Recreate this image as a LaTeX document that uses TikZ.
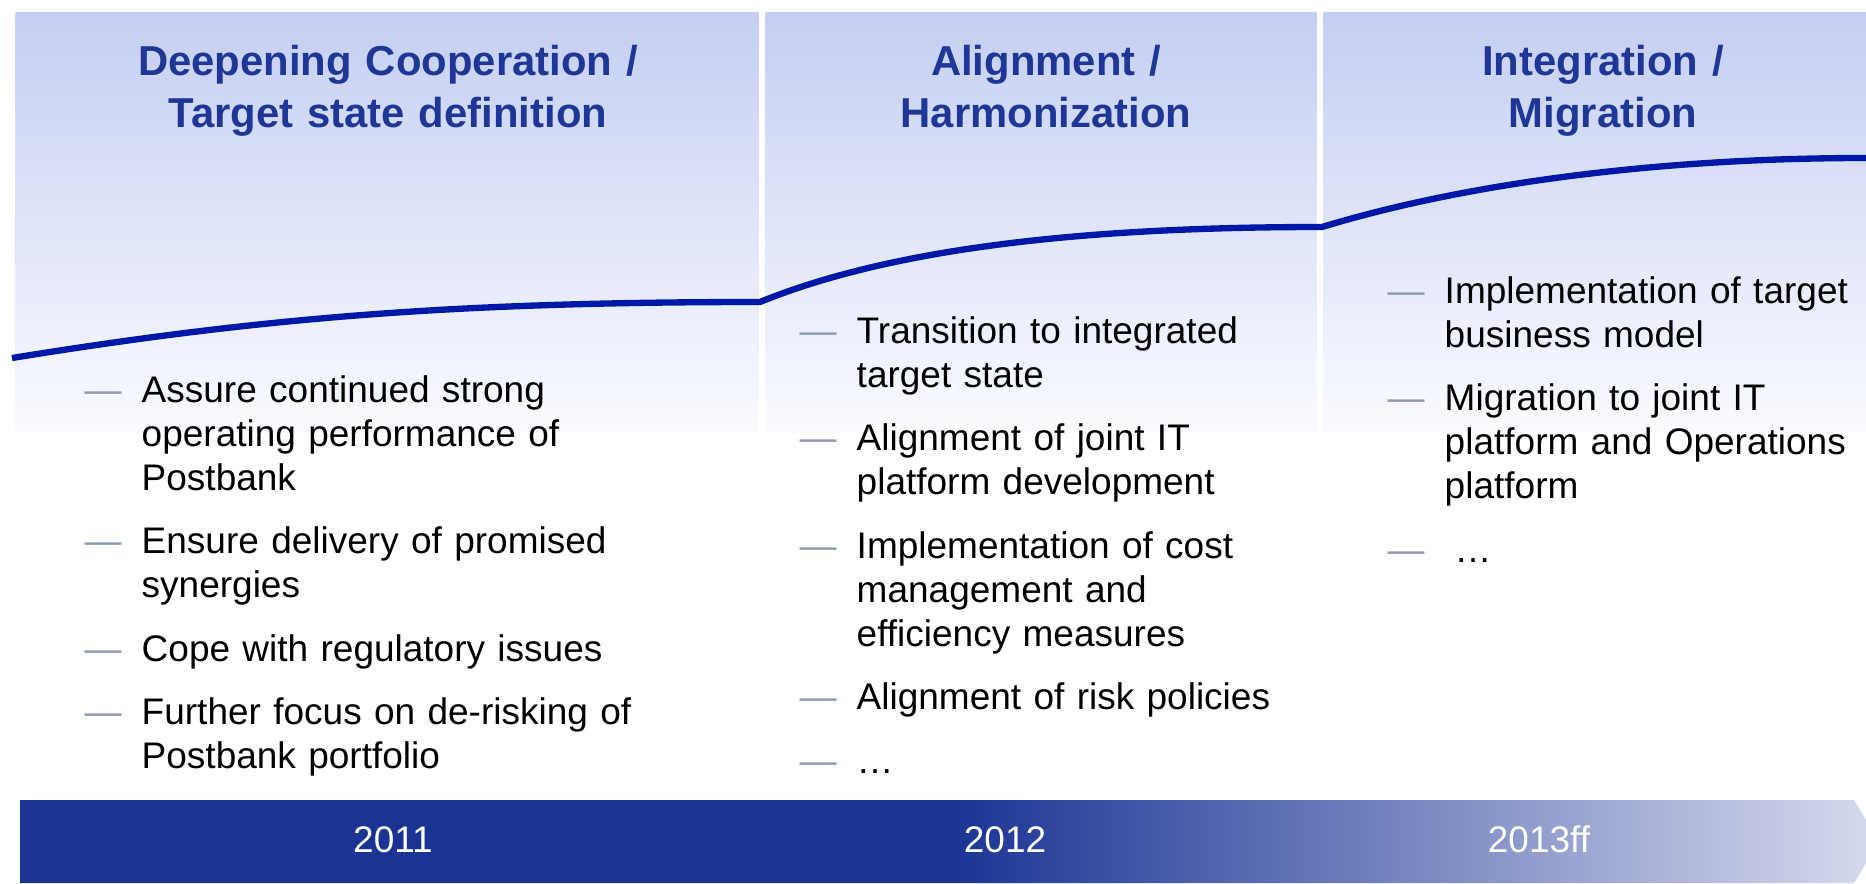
\documentclass[tikz,border=0pt]{standalone}
\usepackage{fontspec}
\setmainfont{Liberation Sans}
\usepackage{xcolor}
\usetikzlibrary{positioning}

\definecolor{headblue}{RGB}{30,55,150}
\definecolor{curveblue}{RGB}{0,24,168}
\definecolor{dashgrey}{RGB}{138,155,178}
\definecolor{paneltop}{RGB}{197,206,242}
\definecolor{panelbot}{RGB}{250,251,255}
\definecolor{bardark}{RGB}{26,52,148}
\definecolor{barlight}{RGB}{216,219,238}

\pgfdeclarehorizontalshading{barshade}{100bp}{color(0bp)=(bardark); color(50bp)=(bardark);
  color(75bp)=(barlight); color(100bp)=(barlight)}

\newcommand{\bdash}{\llap{\textcolor{dashgrey}{—}\hspace{0.2cm}}}

\begin{document}
\begin{tikzpicture}[
  panel/.style={rectangle, inner sep=0pt, anchor=north west, minimum height=4.2cm,
                top color=paneltop, bottom color=panelbot},
  phase/.style={anchor=north, inner sep=0pt, text width=6.5cm, align=center,
                font=\fontsize{11.9pt}{14.79pt}\selectfont\bfseries, text=headblue,
                execute at begin node=\strut},
  bullet/.style={anchor=north west, inner sep=0pt, text width=6cm, align=left,
                 font=\fontsize{10.53pt}{12.52pt}\selectfont,
                 execute at begin node=\strut\bdash, execute at end node=\strut},
  year/.style={anchor=base, inner sep=0pt, text=white,
               font=\fontsize{10.53pt}{12.52pt}\selectfont},
  growth/.style={draw=curveblue, line width=1.8pt, line join=round},
]
  \useasboundingbox (0,0) rectangle (18.66,8.83);

  % ===== Phase panels =====
  \node[panel, minimum width=7.43cm] (p1) at (0.15,8.71) {};
  \node[panel, minimum width=5.51cm] (p2) at (7.65,8.71) {};
  \node[panel, minimum width=5.60cm] (p3) at (13.23,8.71) {};

  \node[phase] (h1) at (3.88,8.444) {Deepening Cooperation /\\ Target state definition};
  \node[phase] (h2) at (10.46,8.444) {Alignment /\\ Harmonization};
  \node[phase] (h3) at (16.03,8.444) {Integration /\\ Migration};

  % ===== Growth curve =====
  \coordinate (g0) at (0.12,5.25);
  \coordinate (g1) at (7.60,5.81);
  \coordinate (g2) at (13.22,6.56);
  \coordinate (g3) at (18.66,7.25);
  \draw[growth] (g0) .. controls (2.60,5.65) and (4.50,5.81) .. (g1)
        .. controls (9.00,6.38) and (11.00,6.56) .. (g2)
        .. controls (14.60,6.98) and (16.50,7.25) .. (g3) -- ++(0.2,0);

  % ===== Bullets 2011 =====
  \node[bullet] (a1) at (1.41,5.12) {Assure continued strong\\ operating performance of\\ Postbank};
  \node[bullet, below=0.18cm of a1.south west, anchor=north west] (a2)
       {Ensure delivery of promised\\ synergies};
  \node[bullet, below=0.18cm of a2.south west, anchor=north west] (a3)
       {Cope with regulatory issues};
  \node[bullet, below=0.18cm of a3.south west, anchor=north west] (a4)
       {Further focus on de-risking of\\ Postbank portfolio};

  % ===== Bullets 2012 =====
  \node[bullet] (b1) at (8.56,5.71) {Transition to integrated\\ target state};
  \node[bullet, below=0.18cm of b1.south west, anchor=north west] (b2)
       {Alignment of joint IT\\ platform development};
  \node[bullet, below=0.18cm of b2.south west, anchor=north west] (b3)
       {Implementation of cost\\ management and\\ efficiency measures};
  \node[bullet, below=0.18cm of b3.south west, anchor=north west] (b4)
       {Alignment of risk policies};
  \node[bullet, below=0.18cm of b4.south west, anchor=north west] (b5) {…};

  % ===== Bullets 2013ff =====
  \node[bullet] (c1) at (14.44,6.11) {Implementation of target\\ business model};
  \node[bullet, below=0.18cm of c1.south west, anchor=north west] (c2)
       {Migration to joint IT\\ platform and Operations\\ platform};
  \node[bullet, below=0.18cm of c2.south west, anchor=north west] (c3)
       {\hspace*{0.1cm}…};

  % ===== Time bar =====
  \shade[shading=barshade] (0.20,0) -- (0.20,0.83) -- (18.54,0.83)
        -- (18.79,0.415) -- (18.54,0) -- cycle;
  \node[year] (y1) at (3.93,0.31) {2011};
  \node[year] (y2) at (10.05,0.31) {2012};
  \node[year] (y3) at (15.39,0.31) {2013ff};

\end{tikzpicture}
\end{document}
